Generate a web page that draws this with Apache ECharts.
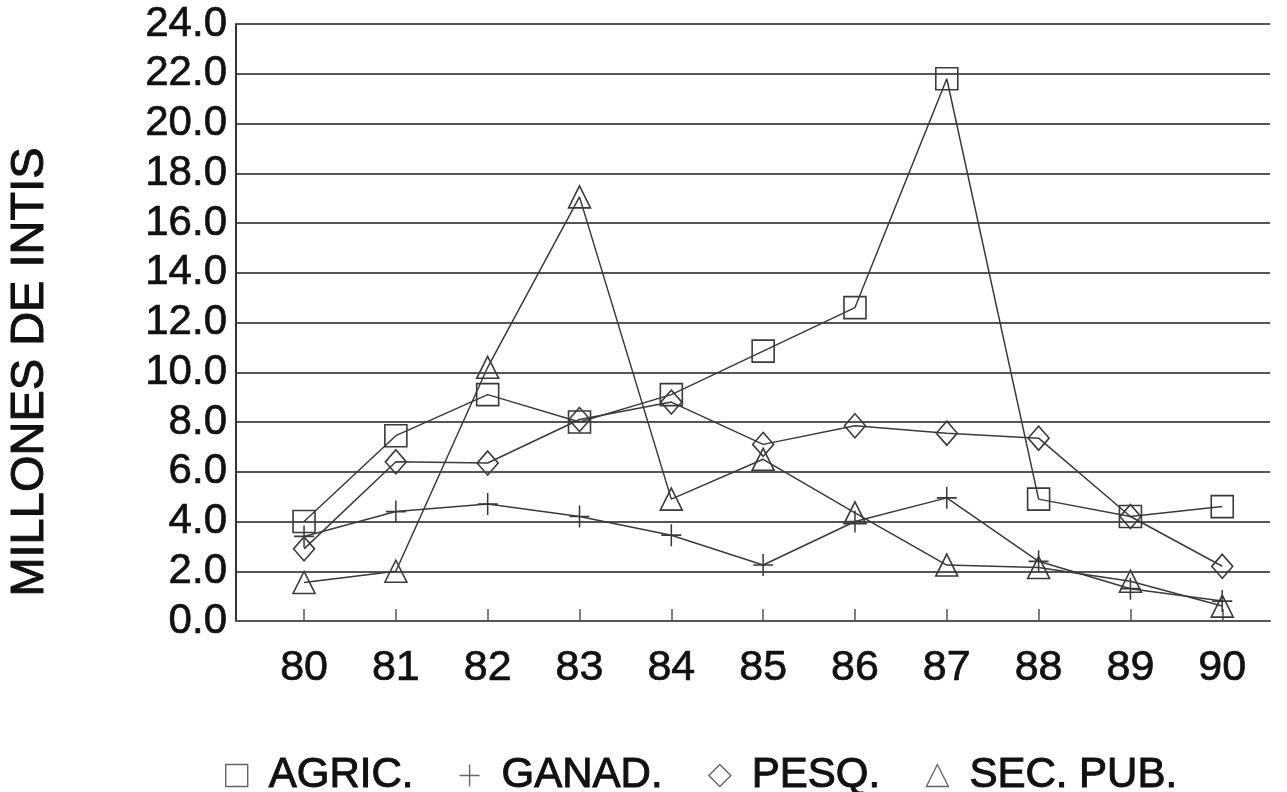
<!DOCTYPE html>
<html>
<head>
<meta charset="utf-8">
<script src="https://cdn.jsdelivr.net/npm/echarts@6/dist/echarts.min.js"></script>
<style>
  html, body { margin: 0; padding: 0; background: #fff; }
  #chart { width: 1287px; height: 792px; }
</style>
</head>
<body>
<div id="chart"></div>
<script>
// Years (two-digit) on the horizontal axis
const years = [80, 81, 82, 83, 84, 85, 86, 87, 88, 89, 90];
const yearLabels = ['80', '81', '82', '83', '84', '85', '86', '87', '88', '89', '90'];

// Series values, millions of intis
const agric  = [4.0, 7.45, 9.1, 8.0, 9.1, 10.85, 12.6, 21.8, 4.9, 4.2, 4.6];
const ganad  = [3.4, 4.4, 4.7, 4.2, 3.45, 2.25, 4.0, 4.95, 2.4, 1.3, 0.8];
const pesq   = [2.9, 6.4, 6.35, 8.1, 8.8, 7.1, 7.85, 7.55, 7.35, 4.2, 2.2];
const secpub = [1.55, 2.0, 10.2, 17.05, 4.9, 6.5, 4.35, 2.25, 2.15, 1.6, 0.6];

const seriesNames = ['AGRIC.', 'GANAD.', 'PESQ.', 'SEC. PUB.'];
const yTicks = [0, 2, 4, 6, 8, 10, 12, 14, 16, 18, 20, 22, 24];

const INK = '#3a3a3a';
const TEXT = '#111';
const FONT = '"Liberation Sans", Arial, Helvetica, sans-serif';
const PLUS = 'path://M10,0 L10,22 M0,11 L20,11';

function pairs(vals) {
  return vals.map((v, i) => [years[i], v]);
}

function lineSeries(name, vals, symbol, size) {
  return {
    name: name,
    type: 'line',
    data: pairs(vals),
    symbol: symbol,
    symbolSize: size,
    showAllSymbol: true,
    lineStyle: { color: INK, width: 1.5 },
    itemStyle: { color: 'transparent', borderColor: INK, borderWidth: 1.6 },
    emphasis: { disabled: true },
    animation: false,
    z: 3
  };
}

const chart = echarts.init(document.getElementById('chart'), null, { renderer: 'canvas' });

chart.setOption({
  backgroundColor: '#ffffff',
  animation: false,
  grid: {
    left: 236, right: 17, top: 24, bottom: 171,
    containLabel: false,
    outerBoundsMode: 'none'
  },
  xAxis: {
    type: 'value',
    min: 79.259,
    max: 90.52,
    axisLine: { show: true, onZero: false, lineStyle: { color: '#555', width: 2 } },
    axisTick: {
      show: true, inside: true, length: 12,
      customValues: years,
      lineStyle: { color: '#555', width: 1.5 }
    },
    axisLabel: {
      show: true,
      customValues: years,
      formatter: v => yearLabels[years.indexOf(Math.round(v))],
      color: TEXT,
      textBorderColor: TEXT,
      textBorderWidth: 0.7,
      fontFamily: FONT,
      fontSize: 43,
      margin: 26
    },
    splitLine: { show: false }
  },
  yAxis: {
    type: 'value',
    min: 0,
    max: 24,
    interval: 2,
    axisLine: { show: true, lineStyle: { color: '#333', width: 2 } },
    axisTick: { show: false },
    axisLabel: {
      color: TEXT,
      textBorderColor: TEXT,
      textBorderWidth: 0.7,
      fontFamily: FONT,
      fontSize: 42,
      margin: 9,
      formatter: v => (yTicks.indexOf(v) >= 0 ? v.toFixed(1) : '')
    },
    splitLine: { show: true, lineStyle: { color: '#555', width: 2 } }
  },
  legend: {
    left: 220,
    top: 749,
    orient: 'horizontal',
    itemWidth: 22,
    itemHeight: 22,
    itemGap: 45,
    selectedMode: false,
    textStyle: {
      color: TEXT,
      textBorderColor: TEXT,
      textBorderWidth: 1,
      fontFamily: FONT,
      fontSize: 42,
      padding: [0, 0, 0, 16]
    },
    itemStyle: { color: 'transparent', borderColor: '#666', borderWidth: 1.4 },
    data: [
      { name: seriesNames[0], icon: 'rect' },
      { name: seriesNames[1], icon: PLUS },
      { name: seriesNames[2], icon: 'diamond' },
      { name: seriesNames[3], icon: 'triangle' }
    ]
  },
  graphic: [{
    type: 'text',
    x: 30,
    y: 372,
    rotation: Math.PI / 2,
    style: {
      text: 'MILLONES DE INTIS',
      fill: TEXT,
      stroke: TEXT,
      lineWidth: 1,
      font: '47px ' + FONT,
      align: 'center',
      verticalAlign: 'middle'
    }
  }],
  series: [
    lineSeries(seriesNames[0], agric, 'rect', 22),
    lineSeries(seriesNames[1], ganad, PLUS, [20, 22]),
    lineSeries(seriesNames[2], pesq, 'diamond', [21, 24]),
    lineSeries(seriesNames[3], secpub, 'triangle', 22)
  ]
});
</script>
</body>
</html>
